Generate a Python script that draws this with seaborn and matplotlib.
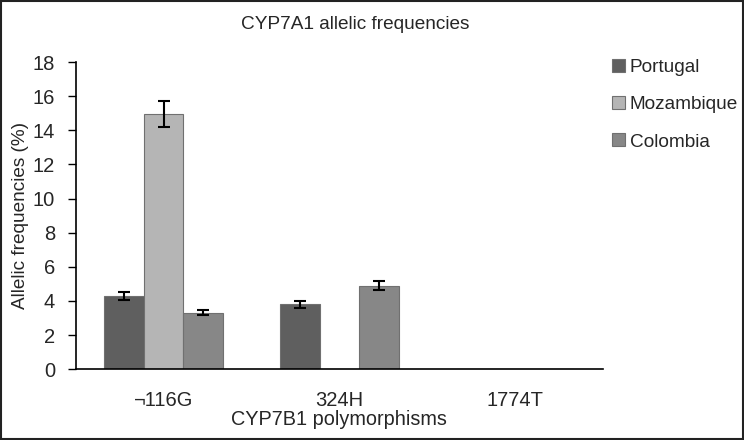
import numpy as np
import pandas as pd
import matplotlib
matplotlib.use("Agg")
import matplotlib.pyplot as plt
import seaborn as sns
from matplotlib.patches import Rectangle

# data
polymorphisms = ["¬116G", "324H", "1774T"]
countries = ["Portugal", "Mozambique", "Colombia"]
portugal = [4.3, 3.8, 0.0]
mozambique = [14.95, 0.0, 0.0]
colombia = [3.3, 4.9, 0.0]
portugal_err = [0.22, 0.2, 0.0]
mozambique_err = [0.75, 0.0, 0.0]
colombia_err = [0.15, 0.25, 0.0]
colors = ["#5f5f5f", "#b5b5b5", "#878787"]

rows = []
for country, vals, errs in zip(countries, [portugal, mozambique, colombia],
                               [portugal_err, mozambique_err, colombia_err]):
    for p, v, e in zip(polymorphisms, vals, errs):
        rows.append({"polymorphism": p, "country": country, "value": v, "err": e})
df = pd.DataFrame(rows)

sns.set_style("white")
plt.rcParams["font.family"] = ["Liberation Sans", "DejaVu Sans"]

fig = plt.figure(figsize=(7.44, 4.40), dpi=100)
ax = fig.add_axes([0.102, 0.161, 0.708, 0.698])

sns.barplot(data=df, x="polymorphism", y="value", hue="country",
            palette=colors, order=polymorphisms, hue_order=countries,
            errorbar=None, width=0.675, edgecolor="#707070", linewidth=0.8,
            saturation=1, ax=ax)

# error bars on top of each bar
for container, country in zip(ax.containers, countries):
    sub = df[df["country"] == country].set_index("polymorphism").loc[polymorphisms]
    for bar, v, e in zip(container, sub["value"], sub["err"]):
        if v > 0:
            ax.errorbar(bar.get_x() + bar.get_width() / 2, v, yerr=e,
                        fmt="none", ecolor="black", elinewidth=1.5,
                        capsize=4.5, capthick=1.5)

ax.set_ylim(0, 18)
ax.set_yticks(range(0, 19, 2))
ax.set_xlim(-0.5, 2.5)
for s in ["top", "right"]:
    ax.spines[s].set_visible(False)
for s in ["left", "bottom"]:
    ax.spines[s].set_color("black")
    ax.spines[s].set_linewidth(1.2)
ax.tick_params(axis="y", direction="out", length=6, width=1, color="black",
               labelsize=14.5, left=True, pad=9)
ax.tick_params(axis="x", length=0, labelsize=14.5, pad=16)

ax.set_ylabel("Allelic frequencies (%)", fontsize=13.7, labelpad=3)
ax.set_xlabel("CYP7B1 polymorphisms", fontsize=14.3, labelpad=0)
fig.text(0.477, 0.944, "CYP7A1 allelic frequencies", ha="center", va="center",
         fontsize=13.7)

ax.legend(loc="upper left", bbox_to_anchor=(612 / 744, 1 - 59 / 440),
          bbox_transform=fig.transFigure, frameon=False,
          fontsize=13.7, handlelength=0.68, handleheight=0.68,
          handletextpad=0.26, labelspacing=1.05, borderpad=0, borderaxespad=0)

fig.patches.append(Rectangle((0.001, 0.002), 0.997, 0.996, transform=fig.transFigure,
                             fill=False, edgecolor="#222222", linewidth=1.5))

fig.savefig("out.png", dpi=100)
